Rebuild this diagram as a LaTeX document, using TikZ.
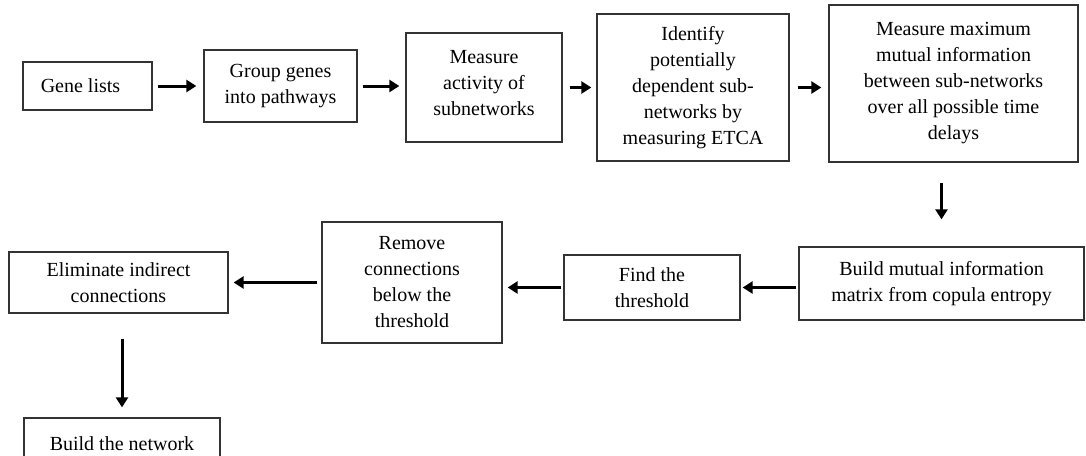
\documentclass[tikz,border=0pt]{standalone}
\usepackage{fontspec}
\setmainfont{Liberation Serif}
\usetikzlibrary{arrows.meta,calc}
\begin{document}
\begin{tikzpicture}[x=1pt,y=-1pt,
  box/.style={draw=black!80, line width=1.3pt, align=center, inner sep=0pt,
    font=\fontsize{20}{26}\selectfont},
  arr/.style={line width=3pt, -{Triangle[length=10pt,width=12pt]}}]
\useasboundingbox (0,0) rectangle (1086,455);
\clip (0,0) rectangle (1086,455);
% top row
\node[box, minimum width=129pt, minimum height=48pt] (f1) at (87.5,86) {Gene lists\hspace*{14pt}};
\node[box, minimum width=153pt, minimum height=72pt] (f2) at (280.5,86) {Group genes\\into pathways};
\node[box, minimum width=156pt, minimum height=109pt, text depth=10pt] (f3) at (484,87.5) {Measure\\activity of\\subnetworks};
\node[box, minimum width=192pt, minimum height=147pt] (f4) at (693,87.5) {Identify\\potentially\\dependent sub-\\networks by\\measuring ETCA};
\node[box, minimum width=249pt, minimum height=157pt] (f5) at (953.5,83.5) {Measure maximum\\mutual information\\between sub-networks\\over all possible time\\delays};
% middle row
\node[box, minimum width=285pt, minimum height=73pt] (f6) at (941.5,283.5) {Build mutual information\\matrix from copula entropy};
\node[box, minimum width=176pt, minimum height=65pt] (f7) at (652,287.5) {Find the\\threshold};
\node[box, minimum width=180pt, minimum height=121pt] (f8) at (412,282.5) {Remove\\connections\\below the\\threshold};
\node[box, minimum width=219pt, minimum height=61pt] (f9) at (118.5,282.5) {Eliminate indirect\\connections};
% bottom
\node[box, minimum width=196pt, minimum height=52pt] (f10) at (122,444) {Build the network};
% arrows
\draw[arr, shorten <=5pt, shorten >=7pt] (f1.east) -- (f2.west);
\draw[arr, shorten <=5pt, shorten >=6pt] (f2.east) -- (f3.west |- f2);
\draw[arr, shorten <=7pt, shorten >=5pt] (f3.east) -- (f4.west);
\draw[arr, shorten <=8pt, shorten >=7pt] (f4.east) -- (f5.west |- f4);
\draw[arr, shorten <=20pt, shorten >=27pt] (f5.south -| f6) -- (f6.north);
\draw[arr, shorten <=2pt, shorten >=2pt] (f6.west |- f7) -- (f7.east);
\draw[arr, shorten <=2pt, shorten >=5pt] (f7.west) -- (f8.east |- f7);
\draw[arr, shorten <=4pt, shorten >=5pt] (f8.west |- f9) -- (f9.east);
\draw[arr, shorten <=25pt, shorten >=10pt] (f9.south -| f10) -- (f10.north);
\end{tikzpicture}
\end{document}
